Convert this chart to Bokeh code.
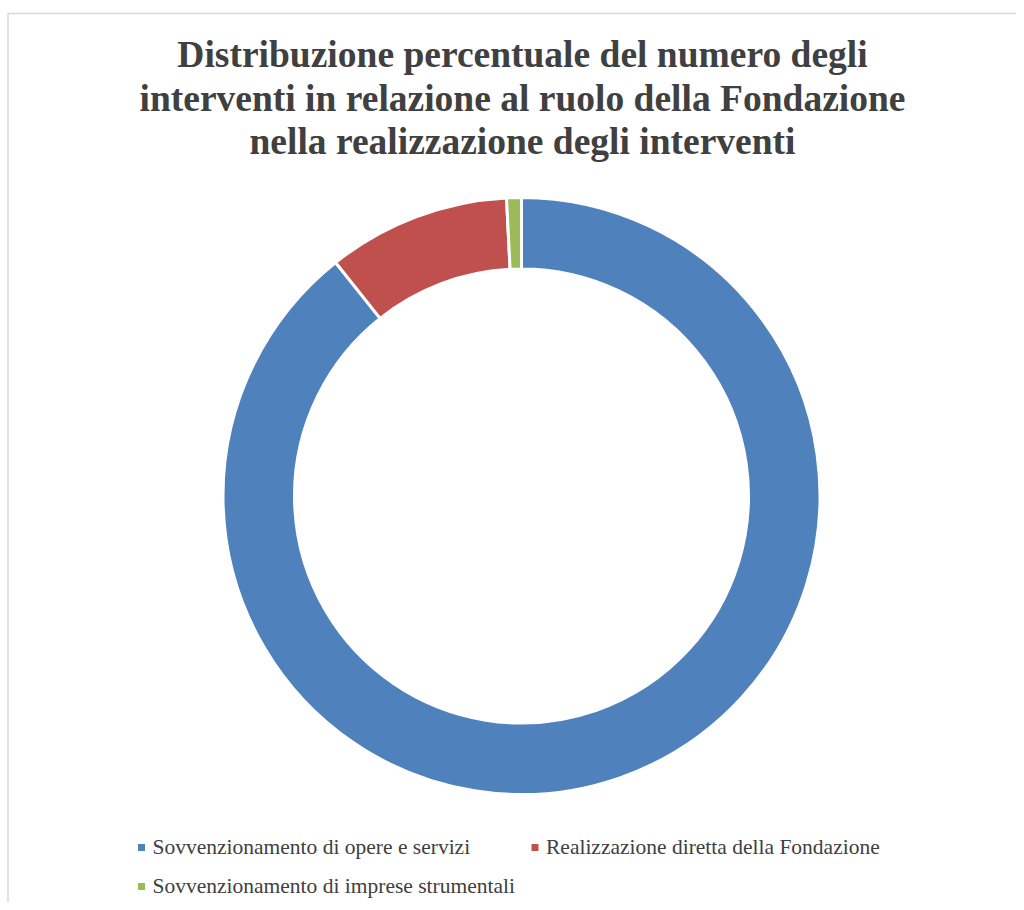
import math
from bokeh.plotting import figure
from bokeh.models import Range1d, ColumnDataSource
from bokeh.core.properties import value
from bokeh.embed import file_html
from bokeh.resources import INLINE

# ---- data ----
title_lines = [
    "Distribuzione percentuale del numero degli",
    "interventi in relazione al ruolo della Fondazione",
    "nella realizzazione degli interventi",
]
categories = [
    "Sovvenzionamento di opere e servizi",
    "Realizzazione diretta della Fondazione",
    "Sovvenzionamento di imprese strumentali",
]
percentages = [89.3, 9.9, 0.8]
colors = ["#4F81BD", "#C0504D", "#9BBB59"]

W, H = 1016, 902
p = figure(width=W, height=H, output_backend="svg", toolbar_location=None,
           x_range=Range1d(0, W), y_range=Range1d(0, H), min_border=0)
p.axis.visible = False
p.grid.visible = False
p.outline_line_color = None
p.background_fill_color = "white"
p.border_fill_color = "white"

def px(x):
    return x

def py(y):
    return H - y

# chart border (only top & left visible in the reference)
p.quad(left=[px(7.5)], right=[W + 20], bottom=[-20], top=[py(13)],
       fill_color=None, line_color="#d9d9d9", line_width=1.5)

# title
p.text(x=[px(522)] * 3, y=[py(54), py(97.5), py(141)], text=title_lines,
       text_font=value("Liberation Serif"), text_font_style="bold",
       text_font_size="37.5px", text_color="#404040",
       text_align="center", text_baseline="alphabetic")

# donut
total = sum(percentages)
starts, ends = [], []
cum = 0.0
for v in percentages:
    starts.append(math.pi / 2 - cum / total * 2 * math.pi)
    cum += v
    ends.append(math.pi / 2 - cum / total * 2 * math.pi)
src = ColumnDataSource(dict(start=starts, end=ends, color=colors, cat=categories))
cx, cy = px(521), py(495.5)
p.annular_wedge(x=cx, y=cy, inner_radius=227, outer_radius=298.5,
                start_angle="start", end_angle="end", direction="clock",
                fill_color="color", line_color="white", line_width=3, source=src)

# legend
leg_x = [px(141), px(534.5), px(141)]
leg_y = [py(847), py(847), py(886)]
p.scatter(x=leg_x, y=leg_y, marker="square", size=7, fill_color=colors, line_color=None)
p.text(x=[x + 11 for x in leg_x], y=[y + 0.5 for y in leg_y], text=categories,
       text_font=value("Liberation Serif"), text_font_size="21.5px",
       text_color="#404040", text_align="left", text_baseline="alphabetic")

open("out.html", "w").write(file_html(p, INLINE))
